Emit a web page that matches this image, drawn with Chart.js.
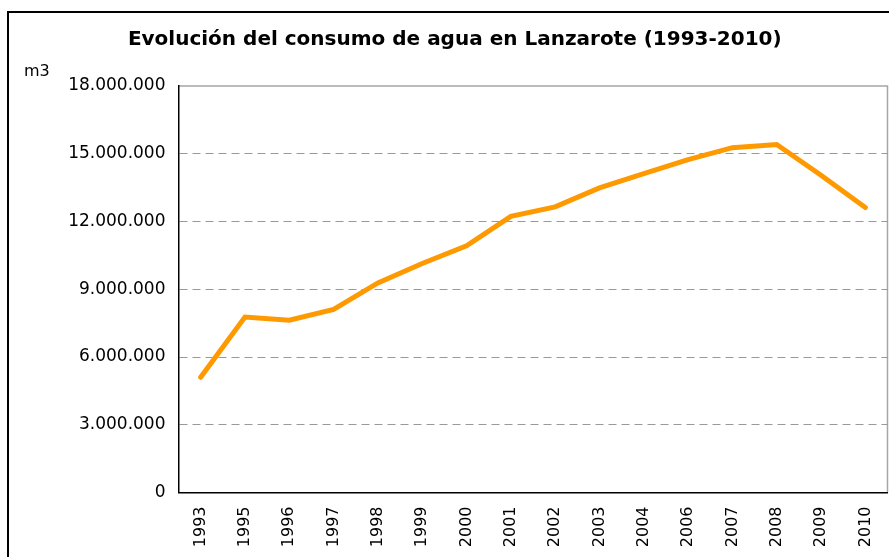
<!DOCTYPE html>
<html>
<head>
<meta charset="utf-8">
<script src="https://cdn.jsdelivr.net/npm/chart.js@4"></script>
<style>
  html, body { margin: 0; padding: 0; background: #fff; overflow: hidden; }
  #wrap { position: relative; width: 889px; height: 557px; overflow: hidden; }
  #frame { position: absolute; left: 7px; top: 11px; width: 1000px; height: 1000px;
           border-left: 2px solid #000; border-top: 2px solid #000; box-sizing: border-box; }
  canvas { position: absolute; left: 0; top: 0; }
</style>
</head>
<body>
<div id="wrap">
  <div id="frame"></div>
  <canvas id="c" width="889" height="557"></canvas>
</div>
<script>
const titleText = "Evolución del consumo de agua en Lanzarote (1993-2010)";
const unitLabel = "m3";
const years = ["1993","1995","1996","1997","1998","1999","2000","2001","2002","2003","2004","2006","2007","2008","2009","2010"];
const consumo = [5100000, 7770000, 7630000, 8110000, 9280000, 10140000, 10920000, 12230000, 12650000, 13490000, 14120000, 14740000, 15270000, 15410000, 14050000, 12620000];
const yMin = 0;
const yMax = 18000000;
const yStep = 3000000;

function fmt(v) {
  return String(Math.round(v)).replace(/\B(?=(\d{3})+(?!\d))/g, ".");
}

const FONT = "'DejaVu Sans', Verdana, sans-serif";

const areaPlugin = {
  id: 'areaPlugin',
  afterLayout(chart) {
    const t = chart.titleBlock;
    if (t) { t.left += 11; t.right += 11; }
  },
  beforeDraw(chart) {
    const {ctx, chartArea: a} = chart;
    ctx.save();
    ctx.strokeStyle = '#a6a6a6';
    ctx.lineWidth = 1.5;
    ctx.beginPath();
    ctx.moveTo(a.left, a.top);
    ctx.lineTo(a.right, a.top);
    ctx.lineTo(a.right, a.bottom);
    ctx.stroke();
    ctx.restore();
  },
  afterDraw(chart) {
    const {ctx, chartArea: a} = chart;
    ctx.save();
    ctx.fillStyle = '#000';
    ctx.font = "16px " + FONT;
    ctx.textAlign = 'left';
    ctx.textBaseline = 'middle';
    ctx.fillText(unitLabel, 24, a.top - 14);
    ctx.restore();
  }
};

new Chart(document.getElementById('c'), {
  type: 'line',
  data: {
    labels: years,
    datasets: [{
      data: consumo,
      borderColor: '#FF9900',
      backgroundColor: '#FF9900',
      borderWidth: 5,
      pointRadius: 0,
      tension: 0,
      borderCapStyle: 'round'
    }]
  },
  options: {
    responsive: false,
    animation: false,
    layout: { padding: { left: 0, right: 1.5, top: 0, bottom: 0 } },
    plugins: {
      legend: { display: false },
      tooltip: { enabled: false },
      title: {
        display: true,
        text: titleText,
        color: '#000',
        font: { family: FONT, size: 20, weight: 'bold' },
        padding: { top: 28, bottom: 34 }
      }
    },
    scales: {
      x: {
        offset: true,
        grid: { display: false, drawTicks: false },
        border: { display: true, color: '#000', width: 1.5 },
        ticks: {
          color: '#000',
          font: { family: FONT, size: 16 },
          minRotation: 90, maxRotation: 90,
          autoSkip: false,
          padding: 14
        },
        afterFit(s) { s.height = 64.5; s.paddingLeft = 0; s.paddingRight = 0; }
      },
      y: {
        min: yMin, max: yMax,
        grid: {
          drawTicks: false,
          color: (c) => (c.tick && (c.tick.value === yMax || c.tick.value === yMin)) ? 'rgba(0,0,0,0)' : '#999999',
          lineWidth: 1
        },
        border: { display: true, color: '#000', width: 1.5, dash: [8, 5] },
        ticks: {
          stepSize: yStep,
          color: '#000',
          font: { family: FONT, size: 17 },
          padding: 13,
          callback: (v) => fmt(v)
        },
        afterFit(s) { s.width = 178.5; }
      }
    }
  },
  plugins: [areaPlugin]
});
</script>
</body>
</html>
